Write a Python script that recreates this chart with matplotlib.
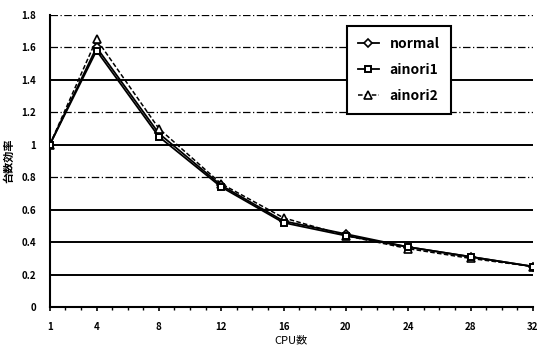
import matplotlib
matplotlib.use('Agg')
import matplotlib.pyplot as plt
from matplotlib.ticker import MultipleLocator

plt.rcParams['font.family'] = ['Noto Sans CJK JP', 'DejaVu Sans']

cpus = [1, 4, 8, 12, 16, 20, 24, 28, 32]
normal = [1.0, 1.60, 1.07, 0.75, 0.53, 0.45, 0.37, 0.31, 0.25]
ainori1 = [1.0, 1.58, 1.05, 0.74, 0.52, 0.44, 0.37, 0.31, 0.25]
ainori2 = [1.0, 1.65, 1.10, 0.76, 0.55, 0.44, 0.36, 0.30, 0.25]
yticks = [0, 0.2, 0.4, 0.6, 0.8, 1.0, 1.2, 1.4, 1.6, 1.8]
ylabels = ['0', '0.2', '0.4', '0.6', '0.8', '1', '1.2', '1.4', '1.6', '1.8']

fig = plt.figure(figsize=(5.41, 3.47), dpi=100)
ax = fig.add_axes([0.092, 0.115, 0.893, 0.842])

# gridlines: solid / dash-dot alternate like the scan
for y in yticks[1:]:
    if y in (0.2, 0.4, 0.6, 1.0, 1.4):
        ax.axhline(y, color='black', lw=1.4, zorder=1)
    else:
        ax.axhline(y, color='black', lw=0.9, ls=(0, (6, 2, 1, 2)), zorder=1)

ax.plot(cpus, normal, color='black', lw=1.3, marker='D', ms=4,
        mfc='white', mec='black', mew=1.2, label='normal', zorder=3)
ax.plot(cpus, ainori1, color='black', lw=1.3, marker='s', ms=5,
        mfc='white', mec='black', mew=1.4, label='ainori1', zorder=4)
ax.plot(cpus, ainori2, color='black', lw=1.1, ls=(0, (3, 1.5)), marker='^', ms=5.5,
        mfc='white', mec='black', mew=1.2, label='ainori2', zorder=3)

ax.set_xlim(1, 32)
ax.set_ylim(0, 1.8)
ax.set_xticks(cpus)
ax.xaxis.set_minor_locator(MultipleLocator(1))
ax.set_yticks(yticks)
ax.set_yticklabels(ylabels)
ax.tick_params(axis='both', labelsize=7, width=1.2)
ax.tick_params(axis='x', which='major', length=3, pad=8)
ax.tick_params(axis='x', which='minor', length=2, width=1)
ax.tick_params(axis='y', length=0, pad=10)
for lab in ax.get_xticklabels() + ax.get_yticklabels():
    lab.set_fontweight('bold')

for s in ('top', 'right'):
    ax.spines[s].set_visible(False)
for s in ('left', 'bottom'):
    ax.spines[s].set_linewidth(1.5)

ax.set_xlabel('CPU数', fontsize=8, labelpad=2)
ax.set_ylabel('台数効率', fontsize=8, fontweight='bold', labelpad=4)

leg = ax.legend(loc='upper left', bbox_to_anchor=(0.6, 0.985),
                frameon=True, fancybox=False, edgecolor='black',
                handlelength=1.5, labelspacing=0.85, borderpad=0.8,
                prop={'weight': 'bold', 'size': 10})
leg.get_frame().set_linewidth(1.5)
leg.get_frame().set_alpha(1)

fig.savefig('out.png', dpi=100)
